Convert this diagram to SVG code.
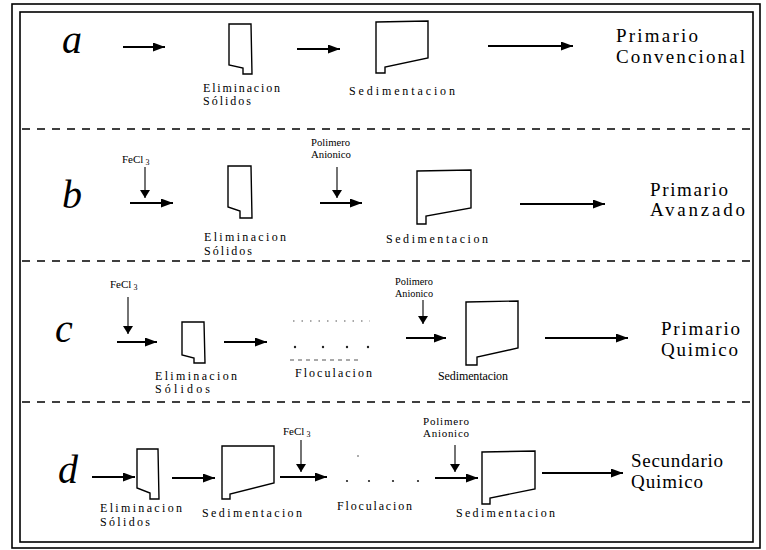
<svg xmlns="http://www.w3.org/2000/svg" width="766" height="550" viewBox="0 0 766 550">
<defs>
<marker id="ah" markerUnits="userSpaceOnUse" markerWidth="13" markerHeight="10" refX="12" refY="4.5" orient="auto"><path d="M0,0 L12,4.5 L0,9 Z" fill="#000"/></marker>
<marker id="av" markerUnits="userSpaceOnUse" markerWidth="9" markerHeight="11" refX="8" refY="5" orient="auto"><path d="M0,0 L8,5 L0,10 Z" fill="#000"/></marker>
<style>
.frame{fill:none;stroke:#000;stroke-width:1.6}
.sep{stroke:#000;stroke-width:1.4;stroke-dasharray:8 7}
.flow{stroke:#000;stroke-width:2.2;fill:none;marker-end:url(#ah)}
.dose{stroke:#000;stroke-width:1.1;fill:none;marker-end:url(#av)}
.unit{fill:none;stroke:#000;stroke-width:1.4;stroke-linejoin:miter}
.row{font-family:"Liberation Serif",serif;font-style:italic;font-size:40px;fill:#000}
.lbl{font-family:"Liberation Serif",serif;font-size:12px;fill:#000}
.sm{font-family:"Liberation Serif",serif;font-size:11px;fill:#000}
.out{font-family:"Liberation Serif",serif;font-size:19px;fill:#000}
.floc{stroke:#555;stroke-width:1.2;fill:none}
</style>
</defs>
<rect width="766" height="550" fill="#fff"/>
<g id="frame">
<rect class="frame" x="12" y="4" width="748" height="544"/>
<rect class="frame" x="20" y="12" width="733" height="530"/>
<line class="sep" x1="22" y1="129" x2="752" y2="129"/>
<line class="sep" x1="22" y1="261" x2="752" y2="261"/>
<line class="sep" x1="22" y1="402" x2="752" y2="402"/>
</g>

<!-- Row a -->
<text class="row" x="62" y="53">a</text>
<g id="a-elim"><path class="unit" d="M229,24 L251,24 L252,74 L243,74 L243,68 L229,65 Z"/>
<text class="lbl" x="203" y="92" textLength="77" lengthAdjust="spacing">Eliminacion</text>
<text class="lbl" x="203" y="105" textLength="48" lengthAdjust="spacing">Sólidos</text></g>
<g id="a-sed"><path class="unit" d="M376,22 L428,21 L428,58 L385,67 L385,73 L376,73 Z"/>
<text class="lbl" x="349" y="95" textLength="106" lengthAdjust="spacing">Sedimentacion</text></g>
<g id="a-out"><text class="out" x="616" y="42" textLength="82" lengthAdjust="spacing">Primario</text>
<text class="out" x="616" y="63" textLength="129" lengthAdjust="spacing">Convencional</text></g>

<!-- Row b -->
<text class="row" x="62" y="208">b</text>
<g id="b-fecl3"><text class="sm" x="122" y="163">FeCl<tspan dx="2" dy="2" font-size="8">3</tspan></text></g>
<g id="b-elim"><path class="unit" d="M228,166 L251,166 L252,218 L240,218 L240,211 L228,207 Z"/>
<text class="lbl" x="204" y="241" textLength="82" lengthAdjust="spacing">Eliminacion</text>
<text class="lbl" x="204" y="255" textLength="48" lengthAdjust="spacing">Sólidos</text></g>
<g id="b-pol"><text class="sm" x="311" y="146" textLength="39" lengthAdjust="spacingAndGlyphs">Polimero</text>
<text class="sm" x="311" y="158" textLength="40" lengthAdjust="spacingAndGlyphs">Anionico</text></g>
<g id="b-sed"><path class="unit" d="M417,171 L471,170 L471,208 L426,216 L426,224 L417,224 Z"/>
<text class="lbl" x="386" y="243" textLength="102" lengthAdjust="spacing">Sedimentacion</text></g>
<g id="b-out"><text class="out" x="650" y="196" font-size="18" textLength="78" lengthAdjust="spacing">Primario</text>
<text class="out" x="650" y="216" font-size="18" textLength="95" lengthAdjust="spacing">Avanzado</text></g>

<!-- Row c -->
<text class="row" x="55" y="342">c</text>
<g id="c-fecl3"><text class="sm" x="110" y="288">FeCl<tspan dx="2" dy="2" font-size="8">3</tspan></text></g>
<g id="c-elim"><path class="unit" d="M182,322 L204,322 L205,363 L194,363 L194,358 L182,355 Z"/>
<text class="lbl" x="155" y="380" textLength="82" lengthAdjust="spacing">Eliminacion</text>
<text class="lbl" x="155" y="393" textLength="55" lengthAdjust="spacing">Sólidos</text></g>
<g id="c-floc">
<line class="floc" x1="293" y1="321" x2="370" y2="321" stroke-dasharray="1.5 7"/>
<line class="floc" x1="290" y1="360" x2="360" y2="360" stroke-dasharray="4 4"/>
<circle cx="295" cy="347" r="1.2" fill="#222"/><circle cx="323" cy="347" r="1.2" fill="#222"/><circle cx="347" cy="347" r="1.2" fill="#222"/><circle cx="368" cy="347" r="1.2" fill="#222"/>
<text class="lbl" x="295" y="377" textLength="77" lengthAdjust="spacing">Floculacion</text></g>
<g id="c-pol"><text class="sm" x="395" y="285" textLength="38" lengthAdjust="spacingAndGlyphs">Polimero</text>
<text class="sm" x="395" y="297" textLength="38" lengthAdjust="spacingAndGlyphs">Anionico</text></g>
<g id="c-sed"><path class="unit" d="M466,302 L518,301 L518,348 L477,357 L477,365 L466,365 Z"/>
<text class="lbl" x="438" y="380" textLength="70" lengthAdjust="spacing">Sedimentacion</text></g>
<g id="c-out"><text class="out" x="661" y="335" textLength="79" lengthAdjust="spacing">Primario</text>
<text class="out" x="661" y="356" textLength="77" lengthAdjust="spacing">Quimico</text></g>

<!-- Row d -->
<text class="row" x="58" y="483">d</text>
<g id="d-elim"><path class="unit" d="M137,449 L158,449 L159,499 L150,499 L150,493 L137,488 Z"/>
<text class="lbl" x="100" y="512" textLength="82" lengthAdjust="spacing">Eliminacion</text>
<text class="lbl" x="100" y="526" textLength="50" lengthAdjust="spacing">Sólidos</text></g>
<g id="d-sed1"><path class="unit" d="M222,446 L274,446 L274,483 L230,494 L230,499 L222,499 Z"/>
<text class="lbl" x="202" y="517" textLength="100" lengthAdjust="spacing">Sedimentacion</text></g>
<g id="d-fecl3"><text class="sm" x="283" y="435">FeCl<tspan dx="2" dy="2" font-size="8">3</tspan></text></g>
<g id="d-floc">
<circle cx="358" cy="456" r="0.8" fill="#444"/>
<circle cx="347" cy="481" r="1.1" fill="#222"/><circle cx="369" cy="481" r="1.1" fill="#222"/><circle cx="393" cy="481" r="1.1" fill="#222"/><circle cx="418" cy="481" r="1.1" fill="#222"/>
<text class="lbl" x="337" y="510" textLength="75" lengthAdjust="spacing">Floculacion</text></g>
<g id="d-pol"><text class="sm" x="423" y="425" textLength="46" lengthAdjust="spacing">Polimero</text>
<text class="sm" x="423" y="437" textLength="46" lengthAdjust="spacing">Anionico</text></g>
<g id="d-sed2"><path class="unit" d="M482,452 L535,451 L535,489 L490,498 L490,504 L482,504 Z"/>
<text class="lbl" x="456" y="517" textLength="99" lengthAdjust="spacing">Sedimentacion</text></g>
<g id="d-out"><text class="out" x="631" y="467" font-size="20" textLength="92" lengthAdjust="spacing">Secundario</text>
<text class="out" x="631" y="488" font-size="20" textLength="72" lengthAdjust="spacing">Quimico</text></g>

<g id="connectors">
<line class="flow" x1="123" y1="47" x2="165" y2="47"/>
<line class="flow" x1="297" y1="49" x2="340" y2="49"/>
<line class="flow" x1="488" y1="46" x2="573" y2="46"/>

<line class="dose" x1="145" y1="167" x2="145" y2="198"/>
<line class="flow" x1="130" y1="203" x2="173" y2="203"/>
<line class="dose" x1="337" y1="167" x2="337" y2="198"/>
<line class="flow" x1="320" y1="203" x2="362" y2="203"/>
<line class="flow" x1="520" y1="204" x2="605" y2="204"/>

<line class="dose" x1="128" y1="297" x2="128" y2="334"/>
<line class="flow" x1="117" y1="342" x2="157" y2="342"/>
<line class="flow" x1="224" y1="342" x2="267" y2="342"/>
<line class="dose" x1="423" y1="300" x2="423" y2="324"/>
<line class="flow" x1="406" y1="338" x2="446" y2="338"/>
<line class="flow" x1="545" y1="338" x2="628" y2="338"/>

<line class="flow" x1="92" y1="477" x2="135" y2="477"/>
<line class="flow" x1="172" y1="478" x2="215" y2="478"/>
<line class="dose" x1="301" y1="440" x2="301" y2="472"/>
<line class="flow" x1="280" y1="477" x2="327" y2="477"/>
<line class="dose" x1="455" y1="445" x2="455" y2="472"/>
<line class="flow" x1="435" y1="478" x2="478" y2="478"/>
<line class="flow" x1="542" y1="473" x2="623" y2="473"/>
</g>
</svg>
